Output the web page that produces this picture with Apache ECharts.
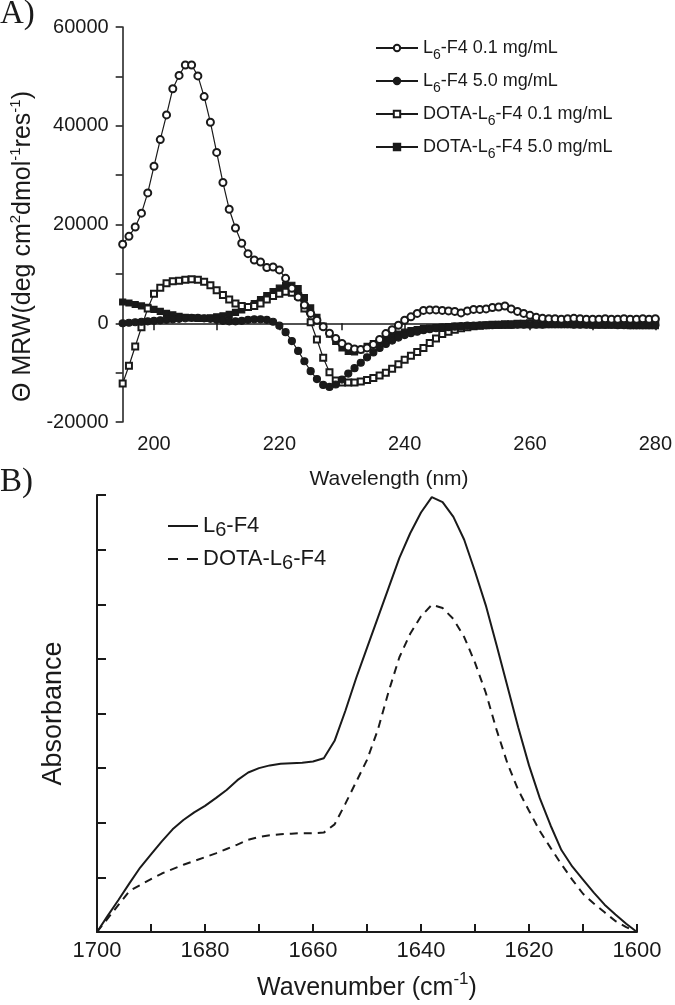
<!doctype html>
<html>
<head>
<meta charset="utf-8">
<script src="https://cdn.jsdelivr.net/npm/echarts@6/dist/echarts.min.js"></script>
<style>
  html, body { margin: 0; padding: 0; background: #fff; }
  #chart { width: 675px; height: 1005px; }
</style>
</head>
<body>
<div id="chart"></div>
<script>
// ---- panel A: CD spectra (MRW ellipticity vs wavelength, nm) ----
var wavelength = [195,196,197,198,199,200,201,202,203,204,
  205,206,207,208,209,210,211,212,213,214,
  215,216,217,218,219,220,221,222,223,224,
  225,226,227,228,229,230,231,232,233,234,
  235,236,237,238,239,240,241,242,243,244,
  245,246,247,248,249,250,251,252,253,254,
  255,256,257,258,259,260,261,262,263,264,
  265,266,267,268,269,270,271,272,273,274,
  275,276,277,278,279,280];
var l6f4Low = [16000,17600,19500,22300,26400,31800,37200,42200,47500,50200,
  52300,52300,50100,45900,40700,34600,28500,23100,19300,16200,
  14100,12800,12400,11300,11400,10800,9100,7100,5300,3700,
  2000,600,-700,-2000,-3100,-4100,-4800,-5200,-5300,-5000,
  -4300,-3300,-2100,-1300,-400,600,1300,2000,2600,2700,
  2700,2600,2500,2400,2100,2500,2800,2800,2900,3200,
  3300,3500,2900,2400,2000,1600,1200,1000,900,900,
  800,900,1000,900,800,800,800,900,800,800,
  900,800,800,900,800,900];
var l6f4High = [0,100,200,300,400,500,600,700,800,900,
  1000,1100,1100,1000,900,700,500,400,400,500,
  700,800,800,700,300,-500,-1800,-3600,-5600,-7700,
  -9700,-11300,-12500,-12900,-12400,-11400,-10200,-9100,-8000,-6900,
  -5900,-5000,-4200,-3500,-2900,-2400,-2000,-1700,-1400,-1200,
  -1000,-900,-800,-700,-600,-500,-500,-400,-400,-400,
  -300,-300,-300,-300,-300,-300,-300,-300,-200,-200,
  -200,-200,-300,-300,-300,-300,-300,-300,-300,-400,
  -400,-400,-400,-400,-400,-400];
var dotaLow = [-12200,-8600,-4700,-800,3000,6000,7200,8100,8500,8600,
  8800,8900,8800,8400,7700,6700,5700,4800,4000,3500,
  3300,3500,4000,4800,5500,6000,6400,6200,5500,3000,
  200,-3300,-7000,-9900,-11600,-12000,-12000,-12000,-11800,-11500,
  -11100,-10600,-10000,-9200,-8300,-7400,-6600,-5800,-5000,-4000,
  -3100,-2200,-1700,-1300,-1000,-800,-600,-500,-400,-300,
  -300,-200,-200,-100,-100,0,0,0,100,100,
  100,100,100,200,200,200,200,200,200,200,
  200,200,200,200,200,200];
var dotaHigh = [4300,4100,3800,3500,3200,2800,2400,2000,1700,1400,
  1200,1100,1000,1000,1100,1300,1500,1800,2200,2700,
  3300,4000,4800,5600,6400,7100,7700,7700,7000,5200,
  3100,1200,-600,-2200,-3700,-5000,-5700,-5800,-5400,-4700,
  -4100,-3600,-3100,-2600,-2200,-1800,-1500,-1300,-1100,-1000,
  -900,-800,-700,-600,-600,-500,-500,-500,-400,-400,
  -400,-400,-400,-300,-300,-300,-300,-300,-300,-300,
  -300,-300,-300,-300,-300,-400,-400,-400,-400,-400,
  -400,-500,-500,-500,-500,-500];
var cdNames = ['L6-F4 0.1 mg/mL', 'L6-F4 5.0 mg/mL', 'DOTA-L6-F4 0.1 mg/mL', 'DOTA-L6-F4 5.0 mg/mL'];
var cdTicks = [200,210,220,230,240,250,260,270,280];
var cdLabels = [200,220,240,260,280];
var mrwTicks = [-20000,-10000,0,10000,20000,30000,40000,50000,60000];
var mrwLabels = [-20000,0,20000,40000,60000];

// ---- panel B: FTIR amide I band (absorbance, arbitrary units) ----
var wavenumber = [1700,1698,1696,1694,1692,1690,1688,1686,1684,1682,
  1680,1678,1676,1674,1672,1670,1668,1666,1664,1662,
  1660,1658,1656,1654,1652,1650,1648,1646,1644,1642,
  1640,1638,1636,1634,1632,1630,1628,1626,1624,1622,
  1620,1618,1616,1614,1612,1610,1608,1606,1604,1602,1600];
var absL6F4 = [0,0.3,0.59,0.89,1.18,1.42,1.66,1.88,2.05,2.19,
  2.31,2.45,2.6,2.78,2.92,3.0,3.05,3.08,3.09,3.1,
  3.12,3.18,3.5,4.05,4.65,5.2,5.75,6.3,6.85,7.3,
  7.68,7.96,7.87,7.6,7.18,6.6,5.98,5.25,4.5,3.75,
  3.05,2.45,1.95,1.5,1.2,0.96,0.72,0.5,0.32,0.15,0];
var absDota = [0,0.25,0.5,0.75,0.86,0.97,1.07,1.15,1.23,1.3,
  1.37,1.44,1.52,1.6,1.69,1.74,1.77,1.79,1.8,1.81,
  1.81,1.82,1.97,2.35,2.75,3.15,3.7,4.4,5.03,5.46,
  5.78,5.99,5.93,5.73,5.4,4.93,4.38,3.7,3.09,2.6,
  2.22,1.85,1.54,1.24,0.96,0.7,0.52,0.36,0.2,0.09,0];
var irNames = ['L6-F4', 'DOTA-L6-F4'];
var irTicks = [1600,1610,1620,1630,1640,1650,1660,1670,1680,1690,1700];
var irLabels = [1600,1620,1640,1660,1680,1700];

var ink = '#1a1a1a';
var sans = 'Liberation Sans';

function pairs(xs, ys) {
    return xs.map(function (x, i) { return [x, ys[i]]; });
}
// put the "6" of L6 as a lowered index
function subFormatter(name) {
    return '{t|' + name.replace('L6', 'L}{s|6}{t|') + '}';
}
function plain(v) { return String(v); }

var chart = echarts.init(document.getElementById('chart'));

var cdSymbols = ['emptyCircle', 'circle', 'emptyRect', 'rect'];
var cdSizes = [7, 7, 6, 6];
var cdData = [l6f4Low, l6f4High, dotaLow, dotaHigh];

var series = cdData.map(function (vals, i) {
    return {
        name: cdNames[i],
        type: 'line',
        xAxisIndex: 0,
        yAxisIndex: 0,
        data: pairs(wavelength, vals),
        symbol: cdSymbols[i],
        symbolSize: cdSizes[i],
        lineStyle: { color: ink, width: 1.2 },
        itemStyle: { color: ink, borderColor: ink, borderWidth: 1.2 },
        emphasis: { disabled: true },
        z: 10 - i
    };
});
series.push({
    name: irNames[0], type: 'line', xAxisIndex: 1, yAxisIndex: 1,
    data: pairs(wavenumber, absL6F4), symbol: 'none',
    lineStyle: { color: ink, width: 2 }, itemStyle: { color: ink },
    emphasis: { disabled: true }
});
series.push({
    name: irNames[1], type: 'line', xAxisIndex: 1, yAxisIndex: 1,
    data: pairs(wavenumber, absDota), symbol: 'none',
    lineStyle: { color: ink, width: 2, type: [8, 6] }, itemStyle: { color: ink },
    emphasis: { disabled: true }
});

var option = {
    animation: false,
    textStyle: { fontFamily: sans, color: ink },
    graphic: [
        { type: 'text', left: 0, top: -2, style: { text: 'A)', font: '33px "Liberation Serif"', fill: ink } },
        { type: 'text', left: 0, top: 466, style: { text: 'B)', font: '33px "Liberation Serif"', fill: ink } }
    ],
    grid: [
        { left: 122, top: 27, width: 537, height: 395 },
        { left: 97, top: 495, width: 540, height: 437 }
    ],
    xAxis: [
        {
            gridIndex: 0, type: 'value', min: 195, max: 280,
            name: 'Wavelength (nm)', nameLocation: 'middle', nameGap: 47,
            nameTextStyle: { fontSize: 21, color: ink, fontFamily: sans },
            axisLine: { lineStyle: { color: ink, width: 1.5 } },
            axisTick: { length: 7, lineStyle: { color: ink, width: 1.5 }, customValues: cdTicks },
            axisLabel: { fontSize: 20, color: ink, margin: 12, customValues: cdLabels, formatter: plain },
            splitLine: { show: false }
        },
        {
            gridIndex: 1, type: 'value', min: 1600, max: 1700, inverse: true,
            name: '{t|Wavenumber (cm}{sup|-1}{t|)}', nameLocation: 'middle', nameGap: 39,
            nameTextStyle: {
                color: ink,
                rich: {
                    t: { fontSize: 25, lineHeight: 34, fontFamily: sans, color: ink },
                    sup: { fontSize: 17, lineHeight: 20, verticalAlign: 'top', fontFamily: sans, color: ink }
                }
            },
            axisLine: { lineStyle: { color: ink, width: 2 } },
            axisTick: { inside: true, length: 8, lineStyle: { color: ink, width: 2 }, customValues: irTicks },
            axisLabel: { fontSize: 22, color: ink, margin: 8, customValues: irLabels, formatter: plain },
            splitLine: { show: false }
        }
    ],
    yAxis: [
        {
            gridIndex: 0, type: 'value', min: -20000, max: 60000,
            name: '{t|\u0398 MRW(deg cm}{sup|2}{t|dmol}{sup|-1}{t|res}{sup|-1}{t|)}',
            nameLocation: 'middle', nameGap: 80,
            nameTextStyle: {
                color: ink,
                padding: [0, 44, 0, 0],
                rich: {
                    t: { fontSize: 25, lineHeight: 30, fontFamily: sans, color: ink },
                    sup: { fontSize: 15, lineHeight: 16, verticalAlign: 'top', fontFamily: sans, color: ink }
                }
            },
            axisLine: { show: true, lineStyle: { color: ink, width: 1.5 } },
            axisTick: { show: true, length: 7, lineStyle: { color: ink, width: 1.5 }, customValues: mrwTicks },
            axisLabel: { fontSize: 20, color: ink, margin: 14, customValues: mrwLabels, formatter: plain },
            splitLine: { show: false }
        },
        {
            gridIndex: 1, type: 'value', min: 0, max: 8, interval: 1,
            name: 'Absorbance', nameLocation: 'middle', nameGap: 30,
            nameTextStyle: { fontSize: 27, color: ink, fontFamily: sans },
            axisLine: { show: true, lineStyle: { color: ink, width: 2 } },
            axisTick: { show: true, inside: true, length: 9, lineStyle: { color: ink, width: 2 } },
            axisLabel: { show: false },
            splitLine: { show: false }
        }
    ],
    legend: [
        {
            orient: 'vertical', left: 370, top: 34,
            itemWidth: 42, itemHeight: 8, itemGap: 10,
            data: cdNames,
            formatter: subFormatter,
            textStyle: {
                color: ink,
                rich: {
                    t: { fontSize: 18, lineHeight: 28, fontFamily: sans, color: ink },
                    s: { fontSize: 14, lineHeight: 16, verticalAlign: 'bottom', fontFamily: sans, color: ink }
                }
            }
        },
        {
            orient: 'vertical', left: 163, top: 510,
            itemWidth: 30, itemHeight: 2, itemGap: 8,
            data: [
                { name: irNames[0], icon: 'path://M0,0h30v2h-30z' },
                { name: irNames[1], icon: 'path://M0,0h10v2h-10zM19,0h11v2h-11z' }
            ],
            formatter: subFormatter,
            textStyle: {
                color: ink,
                rich: {
                    t: { fontSize: 22, lineHeight: 28, fontFamily: sans, color: ink },
                    s: { fontSize: 20, lineHeight: 22, verticalAlign: 'bottom', fontFamily: sans, color: ink }
                }
            }
        }
    ],
    series: series
};

chart.setOption(option);
</script>
</body>
</html>
